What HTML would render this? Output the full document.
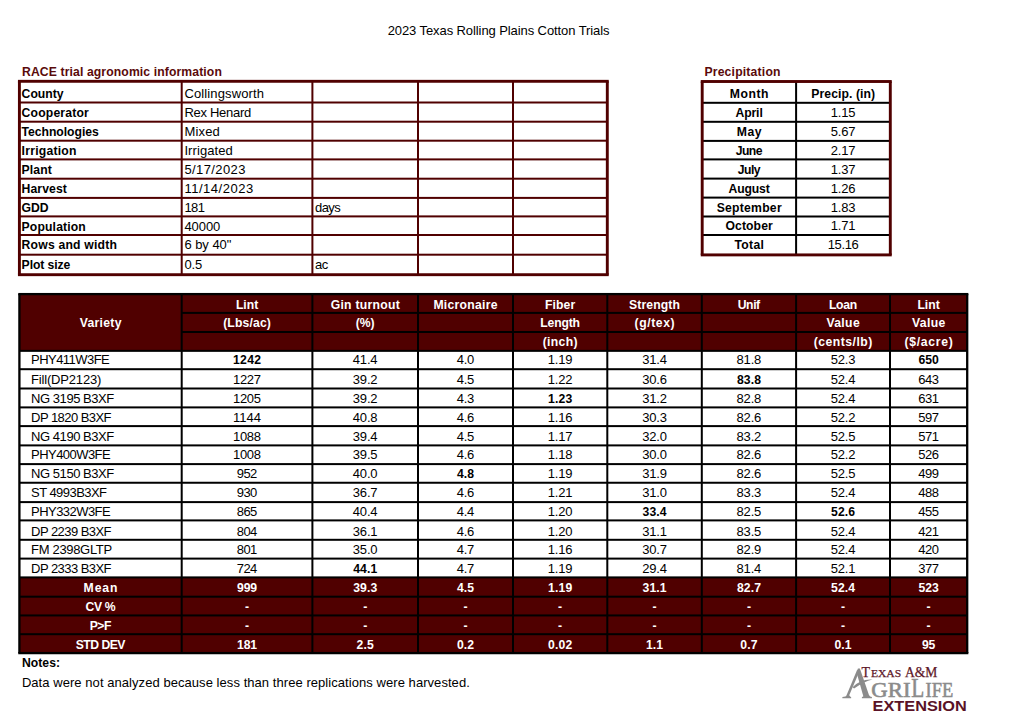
<!DOCTYPE html>
<html lang="en">
<head>
<meta charset="utf-8">
<title>2023 Texas Rolling Plains Cotton Trials</title>
<style>
html,body{margin:0;padding:0;background:#fff;}
body{width:1024px;height:725px;position:relative;overflow:hidden;font-family:"Liberation Sans",sans-serif;color:#000;}
svg{position:absolute;left:0;top:0;}
.t{position:absolute;white-space:nowrap;line-height:20px;height:20px;}
</style>
</head>
<body>
<svg width="1024" height="725" viewBox="0 0 1024 725">
<rect x="19.40" y="101.50" width="587.90" height="2.00" fill="#500000"/>
<rect x="19.40" y="120.70" width="587.90" height="2.00" fill="#500000"/>
<rect x="19.40" y="139.70" width="587.90" height="2.00" fill="#500000"/>
<rect x="19.40" y="158.40" width="587.90" height="2.00" fill="#500000"/>
<rect x="19.40" y="177.70" width="587.90" height="2.00" fill="#500000"/>
<rect x="19.40" y="196.90" width="587.90" height="2.00" fill="#500000"/>
<rect x="19.40" y="215.40" width="587.90" height="2.00" fill="#500000"/>
<rect x="19.40" y="234.00" width="587.90" height="2.00" fill="#500000"/>
<rect x="19.40" y="253.70" width="587.90" height="2.00" fill="#500000"/>
<rect x="180.70" y="81.30" width="2.00" height="193.40" fill="#500000"/>
<rect x="311.40" y="81.30" width="2.00" height="193.40" fill="#500000"/>
<rect x="417.00" y="81.30" width="2.00" height="193.40" fill="#500000"/>
<rect x="512.00" y="81.30" width="2.00" height="193.40" fill="#500000"/>
<rect x="17.95" y="79.85" width="590.80" height="2.90" fill="#500000"/>
<rect x="17.95" y="273.25" width="590.80" height="2.90" fill="#500000"/>
<rect x="17.95" y="81.30" width="2.90" height="193.40" fill="#500000"/>
<rect x="605.85" y="81.30" width="2.90" height="193.40" fill="#500000"/>
<rect x="702.20" y="101.80" width="188.10" height="2.00" fill="#000000"/>
<rect x="702.20" y="120.80" width="188.10" height="2.00" fill="#000000"/>
<rect x="702.20" y="139.90" width="188.10" height="2.00" fill="#000000"/>
<rect x="702.20" y="158.40" width="188.10" height="2.00" fill="#000000"/>
<rect x="702.20" y="177.60" width="188.10" height="2.00" fill="#000000"/>
<rect x="702.20" y="196.60" width="188.10" height="2.00" fill="#000000"/>
<rect x="702.20" y="215.50" width="188.10" height="2.00" fill="#000000"/>
<rect x="702.20" y="234.00" width="188.10" height="2.00" fill="#000000"/>
<rect x="795.10" y="81.50" width="2.00" height="173.40" fill="#000000"/>
<rect x="700.75" y="80.05" width="191.00" height="2.90" fill="#500000"/>
<rect x="700.75" y="253.45" width="191.00" height="2.90" fill="#500000"/>
<rect x="700.75" y="81.50" width="2.90" height="173.40" fill="#500000"/>
<rect x="888.85" y="81.50" width="2.90" height="173.40" fill="#500000"/>
<rect x="19.40" y="294.10" width="947.80" height="56.75" fill="#500000"/>
<rect x="19.40" y="577.40" width="947.80" height="75.70" fill="#500000"/>
<rect x="181.70" y="311.90" width="785.50" height="2.00" fill="#000000"/>
<rect x="181.70" y="331.00" width="785.50" height="2.00" fill="#000000"/>
<rect x="19.40" y="349.85" width="947.80" height="2.00" fill="#000000"/>
<rect x="19.40" y="368.20" width="947.80" height="2.00" fill="#000000"/>
<rect x="19.40" y="387.50" width="947.80" height="2.00" fill="#000000"/>
<rect x="19.40" y="406.40" width="947.80" height="2.00" fill="#000000"/>
<rect x="19.40" y="425.10" width="947.80" height="2.00" fill="#000000"/>
<rect x="19.40" y="444.40" width="947.80" height="2.00" fill="#000000"/>
<rect x="19.40" y="463.10" width="947.80" height="2.00" fill="#000000"/>
<rect x="19.40" y="481.75" width="947.80" height="2.00" fill="#000000"/>
<rect x="19.40" y="501.10" width="947.80" height="2.00" fill="#000000"/>
<rect x="19.40" y="519.40" width="947.80" height="2.00" fill="#000000"/>
<rect x="19.40" y="538.80" width="947.80" height="2.00" fill="#000000"/>
<rect x="19.40" y="557.60" width="947.80" height="2.00" fill="#000000"/>
<rect x="19.40" y="576.40" width="947.80" height="2.00" fill="#000000"/>
<rect x="19.40" y="595.70" width="947.80" height="2.00" fill="#000000"/>
<rect x="19.40" y="614.45" width="947.80" height="2.00" fill="#000000"/>
<rect x="19.40" y="633.20" width="947.80" height="2.00" fill="#000000"/>
<rect x="180.70" y="294.10" width="2.00" height="359.00" fill="#000000"/>
<rect x="311.40" y="294.10" width="2.00" height="359.00" fill="#000000"/>
<rect x="417.00" y="294.10" width="2.00" height="359.00" fill="#000000"/>
<rect x="512.00" y="294.10" width="2.00" height="359.00" fill="#000000"/>
<rect x="606.30" y="294.10" width="2.00" height="359.00" fill="#000000"/>
<rect x="700.80" y="294.10" width="2.00" height="359.00" fill="#000000"/>
<rect x="795.10" y="294.10" width="2.00" height="359.00" fill="#000000"/>
<rect x="889.00" y="294.10" width="2.00" height="359.00" fill="#000000"/>
<rect x="18.25" y="292.95" width="950.10" height="2.30" fill="#000000"/>
<rect x="18.25" y="651.95" width="950.10" height="2.30" fill="#000000"/>
<rect x="18.25" y="294.10" width="2.30" height="359.00" fill="#000000"/>
<rect x="966.05" y="294.10" width="2.30" height="359.00" fill="#000000"/>

<g transform="translate(838,660) scale(0.078125)" fill="#8b8b8b">
<path d="M254,110 L280,110 L404,470 L326,470 L246,190 Z"/>
<path d="M248,118 L268,160 L134,472 L100,472 Z"/>
<path d="M56,474 Q100,470 118,455 L150,455 Q148,470 168,474 L168,490 L56,490 Z"/>
<path d="M306,474 Q330,470 330,455 L400,455 Q405,470 434,474 L434,490 L306,490 Z"/>
<path d="M186,348 Q290,238 442,249 Q332,272 206,366 Z"/>
</g>
<g font-family="'Liberation Serif', serif" fill="#8b8b8b" stroke="#8b8b8b" stroke-width="0.6">
<text x="871.3" y="697.0" font-size="21.9" textLength="39.3" lengthAdjust="spacingAndGlyphs">GRI</text>
<text x="911.3" y="697.0" font-size="26.4" textLength="13.0" lengthAdjust="spacingAndGlyphs">L</text>
<text x="925.6" y="697.0" font-size="21.9" textLength="27.6" lengthAdjust="spacingAndGlyphs">IFE</text>
</g>
<g font-family="'Liberation Serif', serif" fill="#5e1728" stroke="#5e1728" stroke-width="0.25">
<text x="861.6" y="676.7" font-size="13.9">T</text>
<text x="870.9" y="676.7" font-size="10.9" textLength="30.2" lengthAdjust="spacingAndGlyphs">EXAS</text>
<text x="905.0" y="676.7" font-size="13.6" textLength="32.4" lengthAdjust="spacingAndGlyphs">A&amp;M</text>
</g>
<text x="872.6" y="711.3" font-family="'Liberation Sans', sans-serif" font-weight="bold" font-size="14.5" fill="#5a1226" textLength="94.2" lengthAdjust="spacingAndGlyphs">EXTENSION</text>

</svg>
<div class="t" style="top:21.00px;font-size:13.0px;letter-spacing:-0.089px;left:348.56px;width:300px;text-align:center;">2023 Texas Rolling Plains Cotton Trials</div>
<div class="t" style="top:62.00px;font-size:12.2px;font-weight:bold;color:#5a0a0a;letter-spacing:0.113px;left:22.00px;">RACE trial agronomic information</div>
<div class="t" style="top:62.00px;font-size:12.2px;font-weight:bold;color:#5a0a0a;letter-spacing:0.188px;left:704.40px;">Precipitation</div>
<div class="t" style="top:84.00px;font-size:12.2px;font-weight:bold;letter-spacing:0.0px;left:21.60px;">County</div>
<div class="t" style="top:84.00px;font-size:13.0px;letter-spacing:0.125px;left:184.40px;">Collingsworth</div>
<div class="t" style="top:103.00px;font-size:12.2px;font-weight:bold;letter-spacing:0.167px;left:21.60px;">Cooperator</div>
<div class="t" style="top:103.00px;font-size:13.0px;letter-spacing:-0.278px;left:184.40px;">Rex Henard</div>
<div class="t" style="top:122.00px;font-size:12.2px;font-weight:bold;letter-spacing:-0.045px;left:21.60px;">Technologies</div>
<div class="t" style="top:122.00px;font-size:13.0px;letter-spacing:0.188px;left:184.40px;">Mixed</div>
<div class="t" style="top:141.00px;font-size:12.2px;font-weight:bold;letter-spacing:0.222px;left:21.60px;">Irrigation</div>
<div class="t" style="top:141.00px;font-size:13.0px;letter-spacing:0.094px;left:184.40px;">Irrigated</div>
<div class="t" style="top:160.00px;font-size:12.2px;font-weight:bold;letter-spacing:0.125px;left:21.60px;">Plant</div>
<div class="t" style="top:160.00px;font-size:13.0px;letter-spacing:0.406px;left:184.40px;">5/17/2023</div>
<div class="t" style="top:179.00px;font-size:12.2px;font-weight:bold;letter-spacing:0.083px;left:21.60px;">Harvest</div>
<div class="t" style="top:179.00px;font-size:13.0px;letter-spacing:0.528px;left:184.40px;">11/14/2023</div>
<div class="t" style="top:198.00px;font-size:12.2px;font-weight:bold;letter-spacing:-0.125px;left:21.60px;">GDD</div>
<div class="t" style="top:198.00px;font-size:13.0px;letter-spacing:-0.55px;left:184.40px;">181</div>
<div class="t" style="top:198.00px;font-size:13.0px;letter-spacing:-0.55px;left:315.00px;">days</div>
<div class="t" style="top:217.00px;font-size:12.2px;font-weight:bold;letter-spacing:0.139px;left:21.60px;">Population</div>
<div class="t" style="top:217.00px;font-size:13.0px;letter-spacing:-0.062px;left:184.40px;">40000</div>
<div class="t" style="top:235.00px;font-size:12.2px;font-weight:bold;letter-spacing:0.192px;left:21.60px;">Rows and width</div>
<div class="t" style="top:235.00px;font-size:13.0px;letter-spacing:-0.036px;left:184.40px;">6 by 40"</div>
<div class="t" style="top:255.00px;font-size:12.2px;font-weight:bold;letter-spacing:-0.094px;left:21.60px;">Plot size</div>
<div class="t" style="top:255.00px;font-size:13.0px;letter-spacing:-0.125px;left:184.40px;">0.5</div>
<div class="t" style="top:255.00px;font-size:13.0px;letter-spacing:-0.55px;left:315.00px;">ac</div>
<div class="t" style="top:84.00px;font-size:12.2px;font-weight:bold;letter-spacing:0.562px;left:599.43px;width:300px;text-align:center;">Month</div>
<div class="t" style="top:84.00px;font-size:12.2px;font-weight:bold;letter-spacing:0.091px;left:693.25px;width:300px;text-align:center;">Precip. (in)</div>
<div class="t" style="top:103.00px;font-size:12.2px;font-weight:bold;letter-spacing:-0.125px;left:599.09px;width:300px;text-align:center;">April</div>
<div class="t" style="top:103.00px;font-size:13.0px;letter-spacing:-0.2px;left:693.10px;width:300px;text-align:center;">1.15</div>
<div class="t" style="top:122.00px;font-size:12.2px;font-weight:bold;letter-spacing:0.5px;left:599.40px;width:300px;text-align:center;">May</div>
<div class="t" style="top:122.00px;font-size:13.0px;letter-spacing:-0.2px;left:693.10px;width:300px;text-align:center;">5.67</div>
<div class="t" style="top:141.00px;font-size:12.2px;font-weight:bold;letter-spacing:-0.55px;left:598.88px;width:300px;text-align:center;">June</div>
<div class="t" style="top:141.00px;font-size:13.0px;letter-spacing:-0.2px;left:693.10px;width:300px;text-align:center;">2.17</div>
<div class="t" style="top:160.00px;font-size:12.2px;font-weight:bold;letter-spacing:-0.55px;left:598.88px;width:300px;text-align:center;">July</div>
<div class="t" style="top:160.00px;font-size:13.0px;letter-spacing:-0.2px;left:693.10px;width:300px;text-align:center;">1.37</div>
<div class="t" style="top:179.00px;font-size:12.2px;font-weight:bold;letter-spacing:-0.15px;left:599.08px;width:300px;text-align:center;">August</div>
<div class="t" style="top:179.00px;font-size:13.0px;letter-spacing:-0.2px;left:693.10px;width:300px;text-align:center;">1.26</div>
<div class="t" style="top:198.00px;font-size:12.2px;font-weight:bold;letter-spacing:0.25px;left:599.28px;width:300px;text-align:center;">September</div>
<div class="t" style="top:198.00px;font-size:13.0px;letter-spacing:-0.2px;left:693.10px;width:300px;text-align:center;">1.83</div>
<div class="t" style="top:216.00px;font-size:12.2px;font-weight:bold;letter-spacing:0.083px;left:599.19px;width:300px;text-align:center;">October</div>
<div class="t" style="top:216.00px;font-size:13.0px;letter-spacing:-0.2px;left:693.10px;width:300px;text-align:center;">1.71</div>
<div class="t" style="top:235.00px;font-size:12.2px;font-weight:bold;letter-spacing:0.312px;left:599.31px;width:300px;text-align:center;">Total</div>
<div class="t" style="top:235.00px;font-size:13.0px;letter-spacing:-0.363px;left:693.02px;width:300px;text-align:center;">15.16</div>
<div class="t" style="top:295.00px;font-size:12.2px;font-weight:bold;color:#fff;letter-spacing:0.0px;left:97.05px;width:300px;text-align:center;">Lint</div>
<div class="t" style="top:295.00px;font-size:12.2px;font-weight:bold;color:#fff;letter-spacing:0.275px;left:215.34px;width:300px;text-align:center;">Gin turnout</div>
<div class="t" style="top:295.00px;font-size:12.2px;font-weight:bold;color:#fff;letter-spacing:0.278px;left:315.64px;width:300px;text-align:center;">Micronaire</div>
<div class="t" style="top:295.00px;font-size:12.2px;font-weight:bold;color:#fff;letter-spacing:0.062px;left:410.18px;width:300px;text-align:center;">Fiber</div>
<div class="t" style="top:295.00px;font-size:12.2px;font-weight:bold;color:#fff;letter-spacing:0.107px;left:504.60px;width:300px;text-align:center;">Strength</div>
<div class="t" style="top:295.00px;font-size:12.2px;font-weight:bold;color:#fff;letter-spacing:-0.417px;left:598.74px;width:300px;text-align:center;">Unif</div>
<div class="t" style="top:295.00px;font-size:12.2px;font-weight:bold;color:#fff;letter-spacing:-0.333px;left:692.88px;width:300px;text-align:center;">Loan</div>
<div class="t" style="top:295.00px;font-size:12.2px;font-weight:bold;color:#fff;letter-spacing:0.0px;left:778.60px;width:300px;text-align:center;">Lint</div>
<div class="t" style="top:313.00px;font-size:12.2px;font-weight:bold;color:#fff;letter-spacing:0.143px;left:97.12px;width:300px;text-align:center;">(Lbs/ac)</div>
<div class="t" style="top:313.00px;font-size:12.2px;font-weight:bold;color:#fff;letter-spacing:0.0px;left:215.20px;width:300px;text-align:center;">(%)</div>
<div class="t" style="top:313.00px;font-size:12.2px;font-weight:bold;color:#fff;letter-spacing:-0.2px;left:410.05px;width:300px;text-align:center;">Length</div>
<div class="t" style="top:313.00px;font-size:12.2px;font-weight:bold;color:#fff;letter-spacing:0.583px;left:504.84px;width:300px;text-align:center;">(g/tex)</div>
<div class="t" style="top:313.00px;font-size:12.2px;font-weight:bold;color:#fff;letter-spacing:0.35px;left:693.22px;width:300px;text-align:center;">Value</div>
<div class="t" style="top:313.00px;font-size:12.2px;font-weight:bold;color:#fff;letter-spacing:0.35px;left:778.77px;width:300px;text-align:center;">Value</div>
<div class="t" style="top:332.00px;font-size:12.2px;font-weight:bold;color:#fff;letter-spacing:0.35px;left:410.32px;width:300px;text-align:center;">(inch)</div>
<div class="t" style="top:332.00px;font-size:12.2px;font-weight:bold;color:#fff;letter-spacing:0.472px;left:693.29px;width:300px;text-align:center;">(cents/lb)</div>
<div class="t" style="top:332.00px;font-size:12.2px;font-weight:bold;color:#fff;letter-spacing:0.714px;left:778.96px;width:300px;text-align:center;">($/acre)</div>
<div class="t" style="top:313.00px;font-size:12.2px;font-weight:bold;color:#fff;letter-spacing:0.292px;left:-49.30px;width:300px;text-align:center;">Variety</div>
<div class="t" style="top:350.00px;font-size:13.0px;letter-spacing:-0.55px;left:31.10px;">PHY411W3FE</div>
<div class="t" style="top:350.00px;font-size:12.2px;font-weight:bold;letter-spacing:0.333px;left:97.22px;width:300px;text-align:center;">1242</div>
<div class="t" style="top:350.00px;font-size:13.0px;letter-spacing:-0.2px;left:215.10px;width:300px;text-align:center;">41.4</div>
<div class="t" style="top:350.00px;font-size:13.0px;letter-spacing:-0.375px;left:315.31px;width:300px;text-align:center;">4.0</div>
<div class="t" style="top:350.00px;font-size:13.0px;letter-spacing:-0.2px;left:410.05px;width:300px;text-align:center;">1.19</div>
<div class="t" style="top:350.00px;font-size:13.0px;letter-spacing:-0.2px;left:504.45px;width:300px;text-align:center;">31.4</div>
<div class="t" style="top:350.00px;font-size:13.0px;letter-spacing:-0.2px;left:598.85px;width:300px;text-align:center;">81.8</div>
<div class="t" style="top:350.00px;font-size:13.0px;letter-spacing:-0.2px;left:692.95px;width:300px;text-align:center;">52.3</div>
<div class="t" style="top:350.00px;font-size:12.2px;font-weight:bold;letter-spacing:-0.075px;left:778.56px;width:300px;text-align:center;">650</div>
<div class="t" style="top:370.00px;font-size:13.0px;letter-spacing:-0.182px;left:31.10px;">Fill(DP2123)</div>
<div class="t" style="top:370.00px;font-size:13.0px;letter-spacing:-0.333px;left:96.88px;width:300px;text-align:center;">1227</div>
<div class="t" style="top:370.00px;font-size:13.0px;letter-spacing:-0.2px;left:215.10px;width:300px;text-align:center;">39.2</div>
<div class="t" style="top:370.00px;font-size:13.0px;letter-spacing:-0.375px;left:315.31px;width:300px;text-align:center;">4.5</div>
<div class="t" style="top:370.00px;font-size:13.0px;letter-spacing:-0.2px;left:410.05px;width:300px;text-align:center;">1.22</div>
<div class="t" style="top:370.00px;font-size:13.0px;letter-spacing:-0.2px;left:504.45px;width:300px;text-align:center;">30.6</div>
<div class="t" style="top:370.00px;font-size:12.2px;font-weight:bold;letter-spacing:0.133px;left:599.02px;width:300px;text-align:center;">83.8</div>
<div class="t" style="top:370.00px;font-size:13.0px;letter-spacing:-0.2px;left:692.95px;width:300px;text-align:center;">52.4</div>
<div class="t" style="top:370.00px;font-size:13.0px;letter-spacing:-0.55px;left:778.33px;width:300px;text-align:center;">643</div>
<div class="t" style="top:389.00px;font-size:13.0px;letter-spacing:-0.455px;left:31.10px;">NG 3195 B3XF</div>
<div class="t" style="top:389.00px;font-size:13.0px;letter-spacing:-0.333px;left:96.88px;width:300px;text-align:center;">1205</div>
<div class="t" style="top:389.00px;font-size:13.0px;letter-spacing:-0.2px;left:215.10px;width:300px;text-align:center;">39.2</div>
<div class="t" style="top:389.00px;font-size:13.0px;letter-spacing:-0.375px;left:315.31px;width:300px;text-align:center;">4.3</div>
<div class="t" style="top:389.00px;font-size:12.2px;font-weight:bold;letter-spacing:0.133px;left:410.22px;width:300px;text-align:center;">1.23</div>
<div class="t" style="top:389.00px;font-size:13.0px;letter-spacing:-0.2px;left:504.45px;width:300px;text-align:center;">31.2</div>
<div class="t" style="top:389.00px;font-size:13.0px;letter-spacing:-0.2px;left:598.85px;width:300px;text-align:center;">82.8</div>
<div class="t" style="top:389.00px;font-size:13.0px;letter-spacing:-0.2px;left:692.95px;width:300px;text-align:center;">52.4</div>
<div class="t" style="top:389.00px;font-size:13.0px;letter-spacing:-0.55px;left:778.33px;width:300px;text-align:center;">631</div>
<div class="t" style="top:408.00px;font-size:13.0px;letter-spacing:-0.55px;left:31.10px;">DP 1820 B3XF</div>
<div class="t" style="top:408.00px;font-size:13.0px;letter-spacing:0.0px;left:97.05px;width:300px;text-align:center;">1144</div>
<div class="t" style="top:408.00px;font-size:13.0px;letter-spacing:-0.2px;left:215.10px;width:300px;text-align:center;">40.8</div>
<div class="t" style="top:408.00px;font-size:13.0px;letter-spacing:-0.375px;left:315.31px;width:300px;text-align:center;">4.6</div>
<div class="t" style="top:408.00px;font-size:13.0px;letter-spacing:-0.2px;left:410.05px;width:300px;text-align:center;">1.16</div>
<div class="t" style="top:408.00px;font-size:13.0px;letter-spacing:-0.2px;left:504.45px;width:300px;text-align:center;">30.3</div>
<div class="t" style="top:408.00px;font-size:13.0px;letter-spacing:-0.2px;left:598.85px;width:300px;text-align:center;">82.6</div>
<div class="t" style="top:408.00px;font-size:13.0px;letter-spacing:-0.2px;left:692.95px;width:300px;text-align:center;">52.2</div>
<div class="t" style="top:408.00px;font-size:13.0px;letter-spacing:-0.55px;left:778.33px;width:300px;text-align:center;">597</div>
<div class="t" style="top:427.00px;font-size:13.0px;letter-spacing:-0.455px;left:31.10px;">NG 4190 B3XF</div>
<div class="t" style="top:427.00px;font-size:13.0px;letter-spacing:-0.333px;left:96.88px;width:300px;text-align:center;">1088</div>
<div class="t" style="top:427.00px;font-size:13.0px;letter-spacing:-0.2px;left:215.10px;width:300px;text-align:center;">39.4</div>
<div class="t" style="top:427.00px;font-size:13.0px;letter-spacing:-0.375px;left:315.31px;width:300px;text-align:center;">4.5</div>
<div class="t" style="top:427.00px;font-size:13.0px;letter-spacing:-0.2px;left:410.05px;width:300px;text-align:center;">1.17</div>
<div class="t" style="top:427.00px;font-size:13.0px;letter-spacing:-0.2px;left:504.45px;width:300px;text-align:center;">32.0</div>
<div class="t" style="top:427.00px;font-size:13.0px;letter-spacing:-0.2px;left:598.85px;width:300px;text-align:center;">83.2</div>
<div class="t" style="top:427.00px;font-size:13.0px;letter-spacing:-0.2px;left:692.95px;width:300px;text-align:center;">52.5</div>
<div class="t" style="top:427.00px;font-size:13.0px;letter-spacing:-0.55px;left:778.33px;width:300px;text-align:center;">571</div>
<div class="t" style="top:445.00px;font-size:13.0px;letter-spacing:-0.55px;left:31.10px;">PHY400W3FE</div>
<div class="t" style="top:445.00px;font-size:13.0px;letter-spacing:-0.333px;left:96.88px;width:300px;text-align:center;">1008</div>
<div class="t" style="top:445.00px;font-size:13.0px;letter-spacing:-0.2px;left:215.10px;width:300px;text-align:center;">39.5</div>
<div class="t" style="top:445.00px;font-size:13.0px;letter-spacing:-0.375px;left:315.31px;width:300px;text-align:center;">4.6</div>
<div class="t" style="top:445.00px;font-size:13.0px;letter-spacing:-0.2px;left:410.05px;width:300px;text-align:center;">1.18</div>
<div class="t" style="top:445.00px;font-size:13.0px;letter-spacing:-0.2px;left:504.45px;width:300px;text-align:center;">30.0</div>
<div class="t" style="top:445.00px;font-size:13.0px;letter-spacing:-0.2px;left:598.85px;width:300px;text-align:center;">82.6</div>
<div class="t" style="top:445.00px;font-size:13.0px;letter-spacing:-0.2px;left:692.95px;width:300px;text-align:center;">52.2</div>
<div class="t" style="top:445.00px;font-size:13.0px;letter-spacing:-0.55px;left:778.33px;width:300px;text-align:center;">526</div>
<div class="t" style="top:464.00px;font-size:13.0px;letter-spacing:-0.455px;left:31.10px;">NG 5150 B3XF</div>
<div class="t" style="top:464.00px;font-size:13.0px;letter-spacing:-0.55px;left:96.77px;width:300px;text-align:center;">952</div>
<div class="t" style="top:464.00px;font-size:13.0px;letter-spacing:-0.2px;left:215.10px;width:300px;text-align:center;">40.0</div>
<div class="t" style="top:464.00px;font-size:12.2px;font-weight:bold;letter-spacing:0.125px;left:315.56px;width:300px;text-align:center;">4.8</div>
<div class="t" style="top:464.00px;font-size:13.0px;letter-spacing:-0.2px;left:410.05px;width:300px;text-align:center;">1.19</div>
<div class="t" style="top:464.00px;font-size:13.0px;letter-spacing:-0.2px;left:504.45px;width:300px;text-align:center;">31.9</div>
<div class="t" style="top:464.00px;font-size:13.0px;letter-spacing:-0.2px;left:598.85px;width:300px;text-align:center;">82.6</div>
<div class="t" style="top:464.00px;font-size:13.0px;letter-spacing:-0.2px;left:692.95px;width:300px;text-align:center;">52.5</div>
<div class="t" style="top:464.00px;font-size:13.0px;letter-spacing:-0.55px;left:778.33px;width:300px;text-align:center;">499</div>
<div class="t" style="top:483.00px;font-size:13.0px;letter-spacing:-0.55px;left:31.10px;">ST 4993B3XF</div>
<div class="t" style="top:483.00px;font-size:13.0px;letter-spacing:-0.55px;left:96.77px;width:300px;text-align:center;">930</div>
<div class="t" style="top:483.00px;font-size:13.0px;letter-spacing:-0.2px;left:215.10px;width:300px;text-align:center;">36.7</div>
<div class="t" style="top:483.00px;font-size:13.0px;letter-spacing:-0.375px;left:315.31px;width:300px;text-align:center;">4.6</div>
<div class="t" style="top:483.00px;font-size:13.0px;letter-spacing:-0.2px;left:410.05px;width:300px;text-align:center;">1.21</div>
<div class="t" style="top:483.00px;font-size:13.0px;letter-spacing:-0.2px;left:504.45px;width:300px;text-align:center;">31.0</div>
<div class="t" style="top:483.00px;font-size:13.0px;letter-spacing:-0.2px;left:598.85px;width:300px;text-align:center;">83.3</div>
<div class="t" style="top:483.00px;font-size:13.0px;letter-spacing:-0.2px;left:692.95px;width:300px;text-align:center;">52.4</div>
<div class="t" style="top:483.00px;font-size:13.0px;letter-spacing:-0.55px;left:778.33px;width:300px;text-align:center;">488</div>
<div class="t" style="top:502.00px;font-size:13.0px;letter-spacing:-0.55px;left:31.10px;">PHY332W3FE</div>
<div class="t" style="top:502.00px;font-size:13.0px;letter-spacing:-0.55px;left:96.77px;width:300px;text-align:center;">865</div>
<div class="t" style="top:502.00px;font-size:13.0px;letter-spacing:-0.2px;left:215.10px;width:300px;text-align:center;">40.4</div>
<div class="t" style="top:502.00px;font-size:13.0px;letter-spacing:-0.375px;left:315.31px;width:300px;text-align:center;">4.4</div>
<div class="t" style="top:502.00px;font-size:13.0px;letter-spacing:-0.2px;left:410.05px;width:300px;text-align:center;">1.20</div>
<div class="t" style="top:502.00px;font-size:12.2px;font-weight:bold;letter-spacing:0.133px;left:504.62px;width:300px;text-align:center;">33.4</div>
<div class="t" style="top:502.00px;font-size:13.0px;letter-spacing:-0.2px;left:598.85px;width:300px;text-align:center;">82.5</div>
<div class="t" style="top:502.00px;font-size:12.2px;font-weight:bold;letter-spacing:0.133px;left:693.12px;width:300px;text-align:center;">52.6</div>
<div class="t" style="top:502.00px;font-size:13.0px;letter-spacing:-0.55px;left:778.33px;width:300px;text-align:center;">455</div>
<div class="t" style="top:522.00px;font-size:13.0px;letter-spacing:-0.55px;left:31.10px;">DP 2239 B3XF</div>
<div class="t" style="top:522.00px;font-size:13.0px;letter-spacing:-0.55px;left:96.77px;width:300px;text-align:center;">804</div>
<div class="t" style="top:522.00px;font-size:13.0px;letter-spacing:-0.2px;left:215.10px;width:300px;text-align:center;">36.1</div>
<div class="t" style="top:522.00px;font-size:13.0px;letter-spacing:-0.375px;left:315.31px;width:300px;text-align:center;">4.6</div>
<div class="t" style="top:522.00px;font-size:13.0px;letter-spacing:-0.2px;left:410.05px;width:300px;text-align:center;">1.20</div>
<div class="t" style="top:522.00px;font-size:13.0px;letter-spacing:-0.2px;left:504.45px;width:300px;text-align:center;">31.1</div>
<div class="t" style="top:522.00px;font-size:13.0px;letter-spacing:-0.2px;left:598.85px;width:300px;text-align:center;">83.5</div>
<div class="t" style="top:522.00px;font-size:13.0px;letter-spacing:-0.2px;left:692.95px;width:300px;text-align:center;">52.4</div>
<div class="t" style="top:522.00px;font-size:13.0px;letter-spacing:-0.55px;left:778.33px;width:300px;text-align:center;">421</div>
<div class="t" style="top:540.00px;font-size:13.0px;letter-spacing:-0.325px;left:31.10px;">FM 2398GLTP</div>
<div class="t" style="top:540.00px;font-size:13.0px;letter-spacing:-0.55px;left:96.77px;width:300px;text-align:center;">801</div>
<div class="t" style="top:540.00px;font-size:13.0px;letter-spacing:-0.2px;left:215.10px;width:300px;text-align:center;">35.0</div>
<div class="t" style="top:540.00px;font-size:13.0px;letter-spacing:-0.375px;left:315.31px;width:300px;text-align:center;">4.7</div>
<div class="t" style="top:540.00px;font-size:13.0px;letter-spacing:-0.2px;left:410.05px;width:300px;text-align:center;">1.16</div>
<div class="t" style="top:540.00px;font-size:13.0px;letter-spacing:-0.2px;left:504.45px;width:300px;text-align:center;">30.7</div>
<div class="t" style="top:540.00px;font-size:13.0px;letter-spacing:-0.2px;left:598.85px;width:300px;text-align:center;">82.9</div>
<div class="t" style="top:540.00px;font-size:13.0px;letter-spacing:-0.2px;left:692.95px;width:300px;text-align:center;">52.4</div>
<div class="t" style="top:540.00px;font-size:13.0px;letter-spacing:-0.55px;left:778.33px;width:300px;text-align:center;">420</div>
<div class="t" style="top:559.00px;font-size:13.0px;letter-spacing:-0.55px;left:31.10px;">DP 2333 B3XF</div>
<div class="t" style="top:559.00px;font-size:13.0px;letter-spacing:-0.55px;left:96.77px;width:300px;text-align:center;">724</div>
<div class="t" style="top:559.00px;font-size:12.2px;font-weight:bold;letter-spacing:0.133px;left:215.27px;width:300px;text-align:center;">44.1</div>
<div class="t" style="top:559.00px;font-size:13.0px;letter-spacing:-0.375px;left:315.31px;width:300px;text-align:center;">4.7</div>
<div class="t" style="top:559.00px;font-size:13.0px;letter-spacing:-0.2px;left:410.05px;width:300px;text-align:center;">1.19</div>
<div class="t" style="top:559.00px;font-size:13.0px;letter-spacing:-0.2px;left:504.45px;width:300px;text-align:center;">29.4</div>
<div class="t" style="top:559.00px;font-size:13.0px;letter-spacing:-0.2px;left:598.85px;width:300px;text-align:center;">81.4</div>
<div class="t" style="top:559.00px;font-size:13.0px;letter-spacing:-0.2px;left:692.95px;width:300px;text-align:center;">52.1</div>
<div class="t" style="top:559.00px;font-size:13.0px;letter-spacing:-0.55px;left:778.33px;width:300px;text-align:center;">377</div>
<div class="t" style="top:578.00px;font-size:12.2px;font-weight:bold;color:#fff;letter-spacing:0.917px;left:-48.99px;width:300px;text-align:center;">Mean</div>
<div class="t" style="top:578.00px;font-size:12.2px;font-weight:bold;color:#fff;letter-spacing:-0.075px;left:97.01px;width:300px;text-align:center;">999</div>
<div class="t" style="top:578.00px;font-size:12.2px;font-weight:bold;color:#fff;letter-spacing:0.133px;left:215.27px;width:300px;text-align:center;">39.3</div>
<div class="t" style="top:578.00px;font-size:12.2px;font-weight:bold;color:#fff;letter-spacing:0.125px;left:315.56px;width:300px;text-align:center;">4.5</div>
<div class="t" style="top:578.00px;font-size:12.2px;font-weight:bold;color:#fff;letter-spacing:0.133px;left:410.22px;width:300px;text-align:center;">1.19</div>
<div class="t" style="top:578.00px;font-size:12.2px;font-weight:bold;color:#fff;letter-spacing:0.133px;left:504.62px;width:300px;text-align:center;">31.1</div>
<div class="t" style="top:578.00px;font-size:12.2px;font-weight:bold;color:#fff;letter-spacing:0.133px;left:599.02px;width:300px;text-align:center;">82.7</div>
<div class="t" style="top:578.00px;font-size:12.2px;font-weight:bold;color:#fff;letter-spacing:0.133px;left:693.12px;width:300px;text-align:center;">52.4</div>
<div class="t" style="top:578.00px;font-size:12.2px;font-weight:bold;color:#fff;letter-spacing:-0.075px;left:778.56px;width:300px;text-align:center;">523</div>
<div class="t" style="top:597.00px;font-size:12.2px;font-weight:bold;color:#fff;letter-spacing:-0.417px;left:-49.66px;width:300px;text-align:center;">CV %</div>
<div class="t" style="top:597.00px;font-size:12.2px;font-weight:bold;color:#fff;left:97.05px;width:300px;text-align:center;">-</div>
<div class="t" style="top:597.00px;font-size:12.2px;font-weight:bold;color:#fff;left:215.20px;width:300px;text-align:center;">-</div>
<div class="t" style="top:597.00px;font-size:12.2px;font-weight:bold;color:#fff;left:315.50px;width:300px;text-align:center;">-</div>
<div class="t" style="top:597.00px;font-size:12.2px;font-weight:bold;color:#fff;left:410.15px;width:300px;text-align:center;">-</div>
<div class="t" style="top:597.00px;font-size:12.2px;font-weight:bold;color:#fff;left:504.55px;width:300px;text-align:center;">-</div>
<div class="t" style="top:597.00px;font-size:12.2px;font-weight:bold;color:#fff;left:598.95px;width:300px;text-align:center;">-</div>
<div class="t" style="top:597.00px;font-size:12.2px;font-weight:bold;color:#fff;left:693.05px;width:300px;text-align:center;">-</div>
<div class="t" style="top:597.00px;font-size:12.2px;font-weight:bold;color:#fff;left:778.60px;width:300px;text-align:center;">-</div>
<div class="t" style="top:616.00px;font-size:12.2px;font-weight:bold;color:#fff;letter-spacing:-0.55px;left:-49.73px;width:300px;text-align:center;">P&gt;F</div>
<div class="t" style="top:616.00px;font-size:12.2px;font-weight:bold;color:#fff;left:97.05px;width:300px;text-align:center;">-</div>
<div class="t" style="top:616.00px;font-size:12.2px;font-weight:bold;color:#fff;left:215.20px;width:300px;text-align:center;">-</div>
<div class="t" style="top:616.00px;font-size:12.2px;font-weight:bold;color:#fff;left:315.50px;width:300px;text-align:center;">-</div>
<div class="t" style="top:616.00px;font-size:12.2px;font-weight:bold;color:#fff;left:410.15px;width:300px;text-align:center;">-</div>
<div class="t" style="top:616.00px;font-size:12.2px;font-weight:bold;color:#fff;left:504.55px;width:300px;text-align:center;">-</div>
<div class="t" style="top:616.00px;font-size:12.2px;font-weight:bold;color:#fff;left:598.95px;width:300px;text-align:center;">-</div>
<div class="t" style="top:616.00px;font-size:12.2px;font-weight:bold;color:#fff;left:693.05px;width:300px;text-align:center;">-</div>
<div class="t" style="top:616.00px;font-size:12.2px;font-weight:bold;color:#fff;left:778.60px;width:300px;text-align:center;">-</div>
<div class="t" style="top:635.00px;font-size:12.2px;font-weight:bold;color:#fff;letter-spacing:-0.5px;left:-49.70px;width:300px;text-align:center;">STD DEV</div>
<div class="t" style="top:635.00px;font-size:12.2px;font-weight:bold;color:#fff;letter-spacing:-0.075px;left:97.01px;width:300px;text-align:center;">181</div>
<div class="t" style="top:635.00px;font-size:12.2px;font-weight:bold;color:#fff;letter-spacing:0.125px;left:215.26px;width:300px;text-align:center;">2.5</div>
<div class="t" style="top:635.00px;font-size:12.2px;font-weight:bold;color:#fff;letter-spacing:0.125px;left:315.56px;width:300px;text-align:center;">0.2</div>
<div class="t" style="top:635.00px;font-size:12.2px;font-weight:bold;color:#fff;letter-spacing:0.133px;left:410.22px;width:300px;text-align:center;">0.02</div>
<div class="t" style="top:635.00px;font-size:12.2px;font-weight:bold;color:#fff;letter-spacing:0.125px;left:504.61px;width:300px;text-align:center;">1.1</div>
<div class="t" style="top:635.00px;font-size:12.2px;font-weight:bold;color:#fff;letter-spacing:0.125px;left:599.01px;width:300px;text-align:center;">0.7</div>
<div class="t" style="top:635.00px;font-size:12.2px;font-weight:bold;color:#fff;letter-spacing:0.125px;left:693.11px;width:300px;text-align:center;">0.1</div>
<div class="t" style="top:635.00px;font-size:12.2px;font-weight:bold;color:#fff;letter-spacing:-0.3px;left:778.45px;width:300px;text-align:center;">95</div>
<div class="t" style="top:653.00px;font-size:12.2px;font-weight:bold;letter-spacing:0.05px;left:21.90px;">Notes:</div>
<div class="t" style="top:673.00px;font-size:13.0px;letter-spacing:0.057px;left:21.90px;">Data were not analyzed because less than three replications were harvested.</div>
</body>
</html>
